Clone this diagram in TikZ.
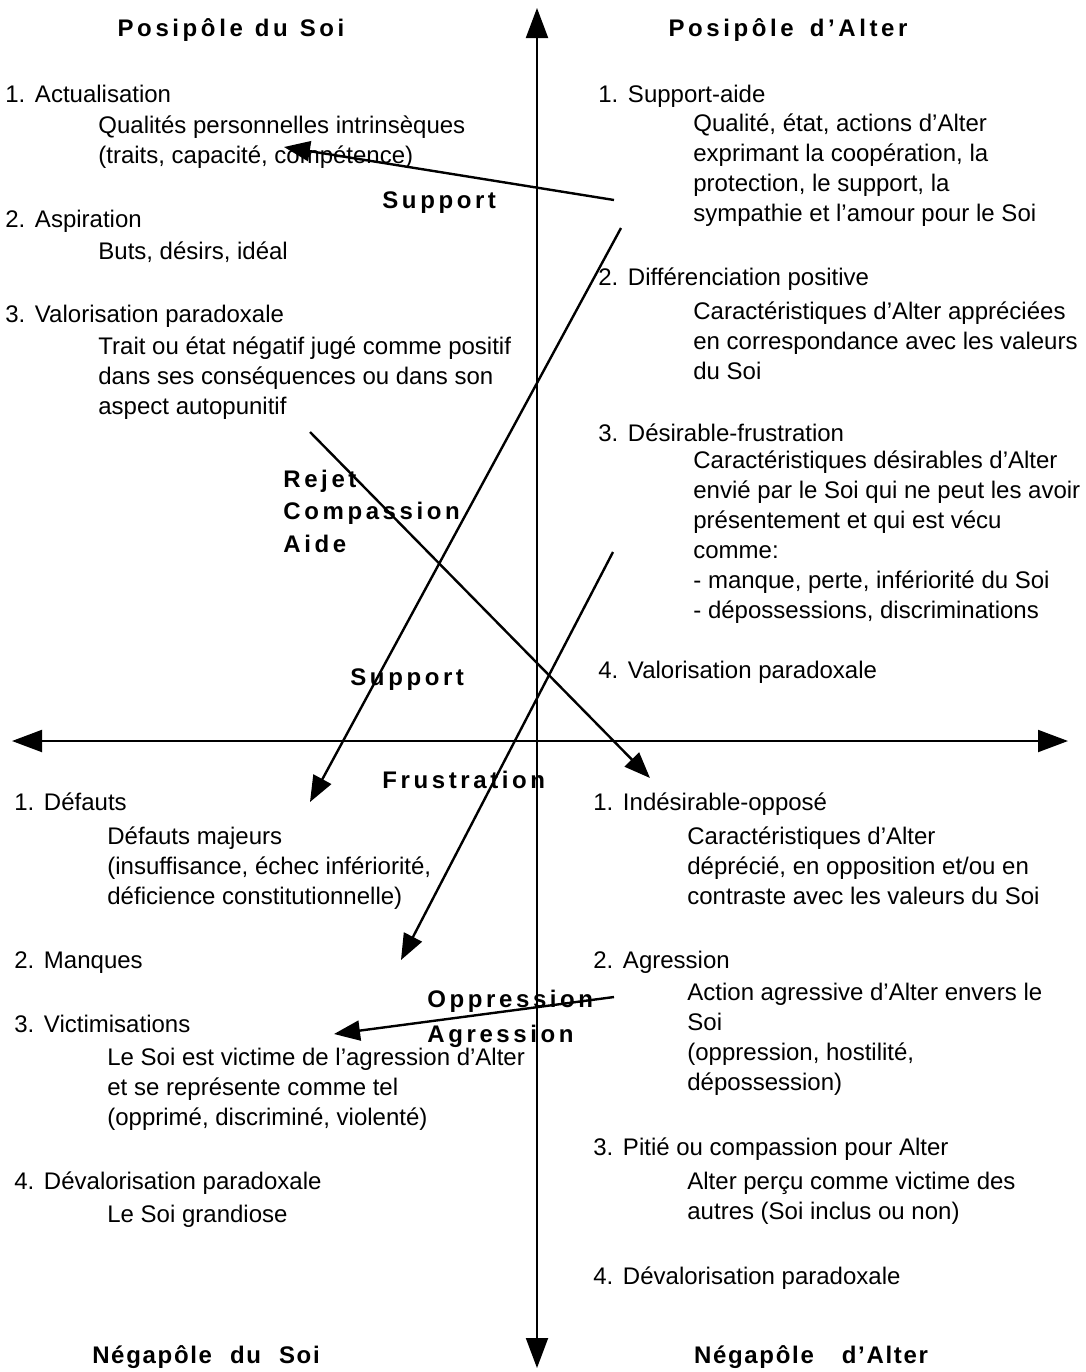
\documentclass[tikz,border=0pt]{standalone}
\usepackage{fontspec}
\setmainfont{Liberation Sans}
\newfontfamily\spacedfont[LetterSpace=15]{Liberation Sans}
\newfontfamily\negfont[LetterSpace=7]{Liberation Sans}
\usetikzlibrary{arrows.meta}
\newcommand{\hs}{\hspace{0.4em}}
% multi-line nodes sit on the baseline of their last line
\tikzset{
  title/.style={anchor=base west, inner sep=0pt, font=\fontsize{12}{15}\selectfont},
  desc/.style={anchor=base west, inner sep=0pt, align=left, font=\fontsize{12}{15}\selectfont},
  pole/.style={anchor=base, inner sep=0pt, font=\spacedfont\bfseries\fontsize{12}{15}\selectfont},
  negpole/.style={anchor=base, inner sep=0pt, font=\negfont\bfseries\fontsize{12}{15}\selectfont},
  flowlbl/.style={anchor=base west, inner sep=0pt, align=left, font=\spacedfont\bfseries\fontsize{12}{16.25}\selectfont},
  axis/.style={line width=1pt, -{Triangle[length=15pt, width=11pt]}},
  flow/.style={line width=1.2pt, -{Triangle[length=13pt, width=10pt]}},
}

\begin{document}
\begin{tikzpicture}[x=0.5pt, y=-0.5pt]
  \useasboundingbox (0,0) rectangle (1086,1372);

  % axes
  \coordinate (org) at (537,741);
  \coordinate (top) at (537,8);
  \coordinate (bot) at (537,1368);
  \coordinate (lft) at (12,741);
  \coordinate (rgt) at (1068,741);
  \draw[axis] (org) -- (top);
  \draw[axis] (org) -- (bot);
  \draw[axis] (org) -- (lft);
  \draw[axis] (org) -- (rgt);

  % poles
  \node[pole] (psoi) at (231,36) {Posipôle\hspace{6pt}du\hspace{6pt}Soi};
  \node[pole] (palter) at (788,36) {Posipôle\hspace{8pt}d’Alter};
  \node[negpole] (nsoi) at (206,1363) {Négapôle\hspace{9pt}du\hspace{9pt}Soi};
  \node[negpole] (nalter) at (811,1363) {Négapôle\hspace{14pt}d’Alter};

  % posipole du Soi
  \node[title] (a1) at (5,102) {1.\hs Actualisation};
  \node[desc] (a1d) at (98,163) {Qualités personnelles intrinsèques\\(traits, capacité, compétence)};
  \node[title] (a2) at (5,227) {2.\hs Aspiration};
  \node[desc] (a2d) at (98,259) {Buts, désirs, idéal};
  \node[title] (a3) at (5,322) {3.\hs Valorisation paradoxale};
  \node[desc] (a3d) at (98,414) {Trait ou état négatif jugé comme positif\\dans ses conséquences ou dans son\\aspect autopunitif};

  % posipole d'Alter
  \node[title] (b1) at (598,102) {1.\hs Support-aide};
  \node[desc] (b1d) at (693,221) {Qualité, état, actions d’Alter\\exprimant la coopération, la\\protection, le support, la\\sympathie et l’amour pour le Soi};
  \node[title] (b2) at (598,285) {2.\hs Différenciation positive};
  \node[desc] (b2d) at (693,379) {Caractéristiques d’Alter appréciées\\en correspondance avec les valeurs\\du Soi};
  \node[title] (b3) at (598,441) {3.\hs Désirable-frustration};
  \node[desc] (b3d) at (693,618) {Caractéristiques désirables d’Alter\\envié par le Soi qui ne peut les avoir\\présentement et qui est vécu\\comme:\\- manque, perte, infériorité du Soi\\- dépossessions, discriminations};
  \node[title] (b4) at (598,678) {4.\hs Valorisation paradoxale};

  % negapole du Soi
  \node[title] (c1) at (14,810) {1.\hs Défauts};
  \node[desc] (c1d) at (107,904) {Défauts majeurs\\(insuffisance, échec infériorité,\\déficience constitutionnelle)};
  \node[title] (c2) at (14,968) {2.\hs Manques};
  \node[title] (c3) at (14,1032) {3.\hs Victimisations};
  \node[desc] (c3d) at (107,1125) {Le Soi est victime de l’agression d’Alter\\et se représente comme tel\\(opprimé, discriminé, violenté)};
  \node[title] (c4) at (14,1189) {4.\hs Dévalorisation paradoxale};
  \node[desc] (c4d) at (107,1222) {Le Soi grandiose};

  % negapole d'Alter
  \node[title] (d1) at (593,810) {1.\hs Indésirable-opposé};
  \node[desc] (d1d) at (687,904) {Caractéristiques d’Alter\\déprécié, en opposition et/ou en\\contraste avec les valeurs du Soi};
  \node[title] (d2) at (593,968) {2.\hs Agression};
  \node[desc] (d2d) at (687,1090) {Action agressive d’Alter envers le\\Soi\\(oppression, hostilité,\\dépossession)};
  \node[title] (d3) at (593,1155) {3.\hs Pitié ou compassion pour Alter};
  \node[desc] (d3d) at (687,1219) {Alter perçu comme victime des\\autres (Soi inclus ou non)};
  \node[title] (d4) at (593,1284) {4.\hs Dévalorisation paradoxale};

  % flow labels
  \node[flowlbl] (lsup1) at (382,208) {Support};
  \node[flowlbl] (lrej) at (283,552) {Rejet\\Compassion\\Aide};
  \node[flowlbl] (lsup2) at (350,685) {Support};
  \node[flowlbl] (lfru) at (382,788) {Frustration};
  \node[flowlbl, font=\spacedfont\bfseries\fontsize{12}{17.5}\selectfont] (lopp) at (427,1042) {Oppression\\Agression};

  % flows
  \coordinate (f1s) at (614,200);
  \coordinate (f1e) at (284,147);
  \coordinate (f2s) at (621,228);
  \coordinate (f2e) at (310,802);
  \coordinate (f3s) at (310,432);
  \coordinate (f3e) at (650,778);
  \coordinate (f4s) at (613,552);
  \coordinate (f4e) at (401,960);
  \coordinate (f5s) at (614,997);
  \coordinate (f5e) at (334,1034);
  \draw[flow] (f1s) -- (f1e);
  \draw[flow] (f2s) -- (f2e);
  \draw[flow] (f3s) -- (f3e);
  \draw[flow] (f4s) -- (f4e);
  \draw[flow] (f5s) -- (f5e);
\end{tikzpicture}
\end{document}
